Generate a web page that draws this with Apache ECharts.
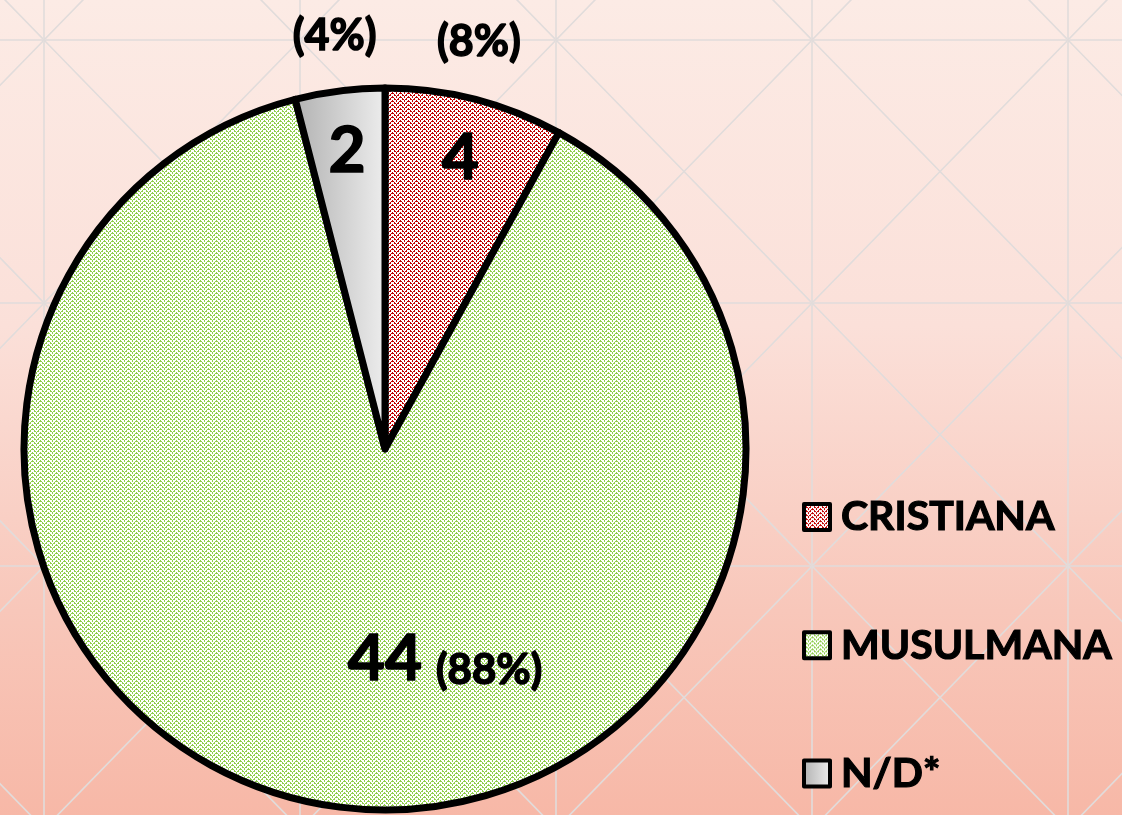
<!DOCTYPE html>
<html>
<head>
<meta charset="utf-8">
<script src="https://cdn.jsdelivr.net/npm/echarts@6/dist/echarts.min.js"></script>
<style>
  html, body { margin: 0; padding: 0; }
  #chart {
    width: 1122px;
    height: 815px;
    background:
      url("data:image/svg+xml;utf8,<svg xmlns='http://www.w3.org/2000/svg' width='256' height='263'><g stroke='%23e1dcdb' stroke-width='1.6' fill='none'><path d='M1 0V263M0 1H256M1 1L257 264M257 1L1 264'/></g></svg>") 43px 39px / 256px 263px repeat,
      linear-gradient(to bottom, #fcebe5 0%, #fbe0d9 40%, #f8c7ba 75%, #f7b8a7 100%);
  }
</style>
</head>
<body>
<div id="chart"></div>
<script>
var names = ['CRISTIANA', 'MUSULMANA', 'N/D*'];
var values = [4, 44, 2];

// small zigzag fill like the office pattern
function zigzag(fg) {
  var c = document.createElement('canvas');
  c.width = 8; c.height = 4;
  var ctx = c.getContext('2d');
  ctx.fillStyle = '#fff';
  ctx.fillRect(0, 0, 8, 4);
  ctx.fillStyle = fg;
  var h = [0, 1, 2, 3, 0, 3, 2, 1];
  for (var x = 0; x < 8; x++) {
    ctx.fillRect(x, h[x], 1, 1);
    if (x % 2 == 0) ctx.fillRect(x, (h[x] + 1) % 4, 1, 1);
  }
  return c;
}

var fills = [
  { image: zigzag('#c00000'), repeat: 'repeat' },
  { image: zigzag('#8fce4c'), repeat: 'repeat' },
  new echarts.graphic.LinearGradient(0, 0, 1, 0, [
    { offset: 0, color: '#b0b0b0' },
    { offset: 1, color: '#efefef' }
  ])
];

var font = 'Lato, "Open Sans", sans-serif';
var center = [385, 449];
var heavy = { color: '#000', textBorderColor: '#000', textBorderWidth: 1.5 };

var mainData = names.map(function (n, i) {
  return { name: n, value: values[i], itemStyle: { color: fills[i] } };
});
var labelData = names.map(function (n, i) {
  return { name: n, value: values[i] };
});

var chart = echarts.init(document.getElementById('chart'));
chart.setOption({
  animation: false,
  legend: {
    orient: 'vertical',
    left: 797,
    top: 491,
    itemWidth: 26,
    itemHeight: 26,
    itemGap: 86,
    icon: 'rect',
    selectedMode: false,
    data: names,
    itemStyle: { borderColor: '#000', borderWidth: 4 },
    textStyle: {
      fontFamily: font,
      fontWeight: 'bold',
      fontSize: 41,
      color: '#000',
      textBorderColor: '#000',
      textBorderWidth: 1.2,
      lineHeight: 40,
      padding: [0, 0, 0, 6]
    }
  },
  series: [
    {
      name: 'main',
      type: 'pie',
      center: center,
      radius: 361,
      startAngle: 90,
      clockwise: true,
      silent: true,
      label: { show: false },
      labelLine: { show: false },
      itemStyle: { borderColor: '#000', borderWidth: 7 },
      emphasis: { disabled: true },
      data: mainData
    },
    {
      name: 'values',
      type: 'pie',
      center: center,
      radius: [240, 360],
      startAngle: 90,
      silent: true,
      avoidLabelOverlap: false,
      itemStyle: { color: 'rgba(0,0,0,0)', borderWidth: 0 },
      emphasis: { disabled: true },
      labelLine: { show: false },
      label: {
        show: true,
        position: 'inside',
        color: '#000',
        formatter: function (p) {
          if (p.dataIndex == 1) return '{v|' + p.value + '}{p|(' + p.percent + '%)}';
          return '{v|' + p.value + '}';
        },
        rich: {
          v: Object.assign({ fontFamily: font, fontWeight: 'bold', fontSize: 64, verticalAlign: 'bottom', lineHeight: 70 }, heavy),
          p: Object.assign({ fontFamily: font, fontWeight: 'bold', fontSize: 42, verticalAlign: 'bottom', lineHeight: 52, padding: [0, 0, 0, 14] }, heavy)
        }
      },
      labelLayout: function (params) {
        if (params.dataIndex == 1) return { dx: 98, dy: -93 };
      },
      data: labelData
    },
    {
      name: 'percents',
      type: 'pie',
      center: center,
      radius: [380, 450],
      startAngle: 90,
      silent: true,
      avoidLabelOverlap: false,
      itemStyle: { color: 'rgba(0,0,0,0)', borderWidth: 0 },
      emphasis: { disabled: true },
      labelLine: { show: false },
      label: Object.assign({
        show: true,
        position: 'inside',
        fontFamily: font,
        fontWeight: 'bold',
        fontSize: 43,
        formatter: function (p) {
          if (p.dataIndex == 1) return '';
          return '(' + p.percent + '%)';
        }
      }, heavy),
      labelLayout: function (params) {
        if (params.dataIndex == 0) return { dx: -10, dy: -2 };
        if (params.dataIndex == 2) return { dx: 2, dy: 2 };
      },
      data: labelData
    }
  ]
});
</script>
</body>
</html>
